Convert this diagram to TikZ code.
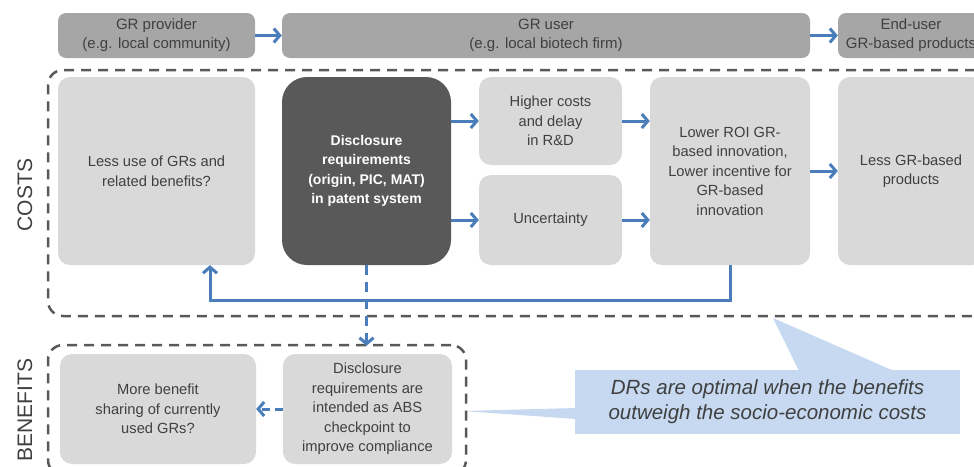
\documentclass[tikz,border=0pt]{standalone}
\usepackage{fontspec}
\setmainfont{Liberation Sans}
\usetikzlibrary{arrows.meta}
\definecolor{headgray}{HTML}{A6A6A6}
\definecolor{boxgray}{HTML}{D9D9D9}
\definecolor{darkgray}{HTML}{595959}
\definecolor{textgray}{HTML}{404040}
\definecolor{flowblue}{HTML}{4A7EBB}
\definecolor{noteblue}{HTML}{C6D9F1}
\begin{document}
\begin{tikzpicture}[x=1pt,y=-1pt,
  headbox/.style={fill=headgray, rounded corners=8pt, text=textgray, align=center, inner sep=0pt,
    font=\fontsize{15}{19}\selectfont},
  lightbox/.style={fill=boxgray, rounded corners=12pt, text=textgray, align=center, inner sep=0pt,
    font=\fontsize{14.7}{19.5}\selectfont},
  darkbox/.style={fill=darkgray, rounded corners=25pt, text=white, align=center, inner sep=0pt,
    font=\fontsize{14}{19.5}\selectfont\bfseries},
  groupbox/.style={draw=darkgray, line width=2.5pt, dash pattern=on 10pt off 7pt, rounded corners=15pt, inner sep=0pt},
  flow/.style={draw=flowblue, line width=3pt, -{Straight Barb[length=6pt,width=14pt]}},
  sidelabel/.style={rotate=90, text=textgray, font=\fontsize{21}{24}\selectfont}]

\useasboundingbox (0,0) rectangle (974,466);
\clip (0,0) rectangle (974,466);

\node (note) [fill=noteblue, minimum width=385, minimum height=64, align=center, text=textgray,
  font=\fontsize{20.5}{25}\selectfont\itshape] at (767.5,402)
  {DRs are optimal when the benefits\\outweigh the socio-economic costs};
\fill [noteblue] (773,318) -- (799,371) -- (894,371) -- cycle;
\fill [noteblue] (463,411) -- (576,408) -- (576,419) -- cycle;

\node (prov) [headbox, minimum width=197, minimum height=45] at (156.5,35.5) {GR provider\\(e.g. local community)};
\node (user) [headbox, minimum width=528, minimum height=45] at (546,35.5) {GR user\\(e.g. local biotech firm)};
\node (enduser) [headbox, minimum width=146, minimum height=45] at (911,35.5) {End-user\\GR-based products};

\node (lessuse) [lightbox, minimum width=197, minimum height=188] at (156.5,171) {Less use of GRs and\\related benefits?};
\node (discl) [darkbox, minimum width=169, minimum height=188] at (366.5,171) {Disclosure\\requirements\\(origin, PIC, MAT)\\in patent system};
\node (delay) [lightbox, minimum width=143, minimum height=88] at (550.5,121) {Higher costs\\and delay\\in R\&D};
\node (uncert) [lightbox, minimum width=143, minimum height=90] at (550.5,220) {Uncertainty};
\node (lowroi) [lightbox, minimum width=160, minimum height=188] at (730,171) {Lower ROI GR-\\based innovation,\\Lower incentive for\\GR-based\\innovation};
\node (lessprod) [lightbox, minimum width=146, minimum height=188] at (911,171) {Less GR-based\\products};

\node (morebs) [lightbox, minimum width=196, minimum height=110] at (158,409) {More benefit\\sharing of currently\\used GRs?};
\node (intend) [lightbox, minimum width=169, minimum height=110] at (367.5,409) {Disclosure\\requirements are\\intended as ABS\\checkpoint to\\improve compliance};

\node (costgrp) [groupbox, minimum width=942, minimum height=246] at (519,193) {};
\node (bengrp) [groupbox, minimum width=418, minimum height=130] at (257,410) {};

\node (costlbl) [sidelabel] at (25,195) {COSTS};
\node (benlbl) [sidelabel] at (25,410) {BENEFITS};

\draw [flow] (prov) -- (user);
\draw [flow] (user) -- (enduser);
\draw [flow] (discl.east |- delay.west) -- (delay.west);
\draw [flow] (discl.east |- uncert.west) -- (uncert.west);
\draw [flow] (delay.east) -- (lowroi.west |- delay.east);
\draw [flow] (uncert.east) -- (lowroi.west |- uncert.east);
\draw [flow] (lowroi) -- (lessprod);
\draw [flow] (lowroi.south) -- ++(0,35) -| ([xshift=53.5pt]lessuse.south);
\draw [flow, dash pattern=on 10pt off 7pt] (discl.south) -- ([yshift=-2pt]discl.south |- bengrp.north);
\draw [flow, dash pattern=on 8pt off 5pt] (intend.west) -- (morebs.east);

\end{tikzpicture}
\end{document}
